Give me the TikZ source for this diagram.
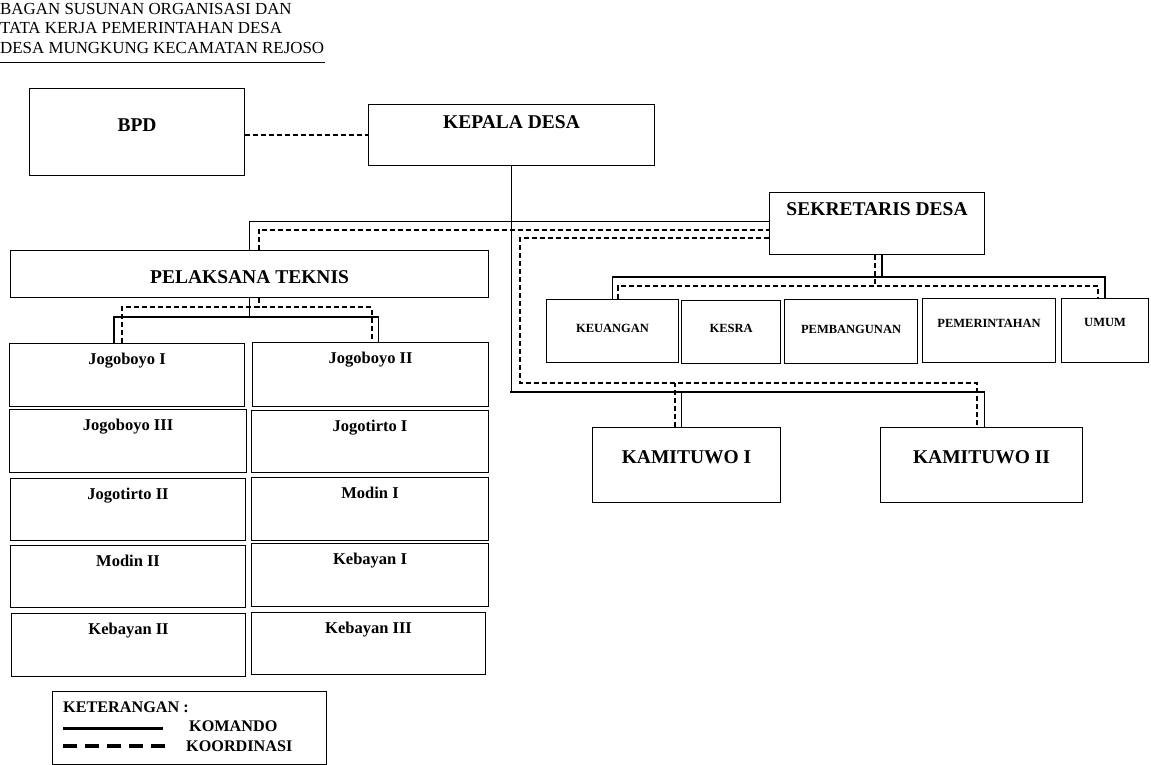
\documentclass[tikz,border=0pt]{standalone}
\usepackage{fontspec}
\setmainfont{Liberation Serif}
\usepackage{tikz}

\begin{document}
\begin{tikzpicture}[x=1pt,y=-1pt,
        box/.style n args={3}{draw,line width=1.1pt,inner sep=0pt,anchor=north west,
            minimum width=#1,text height=#2pt,text depth=#3pt},
        big/.style={font=\bfseries\fontsize{19.5}{20}\selectfont},
        mid/.style={font=\bfseries\fontsize{16.5}{17}\selectfont},
        sml/.style={font=\bfseries\fontsize{12.5}{13}\selectfont},
        ttl/.style={anchor=base west,inner sep=0pt,font=\fontsize{16.9}{17}\selectfont},
        lgd/.style={anchor=base west,inner sep=0pt,font=\bfseries\fontsize{16.2}{17}\selectfont},
        cmd/.style={line width=1.3pt},
        crd/.style={line width=1.9pt,dash pattern=on 5pt off 3pt}]
    \useasboundingbox (0,0) rectangle (1151,765);

    % judul
    \node[ttl] (t1) at (0,15) {BAGAN SUSUNAN ORGANISASI DAN};
    \node[ttl] (t2) at (0,34) {TATA KERJA PEMERINTAHAN DESA};
    \node[ttl] (t3) at (0,54) {DESA MUNGKUNG KECAMATAN REJOSO};
    \draw[line width=1pt] (0,63) -- (325,63);

    % pimpinan
    \node[box={215}{43}{44}, big] (bpd)    at (29,88)   {BPD};
    \node[box={286}{24}{37}, big] (kepala) at (368,104) {KEPALA DESA};
    \node[box={215}{23}{39}, big] (sek)    at (769,192) {SEKRETARIS DESA};
    \node[box={478}{33}{14}, big] (pel)    at (10,250)  {PELAKSANA TEKNIS};

    % kepala urusan
    \node[box={132}{33}{30}, sml] (keu)   at (546,299)  {KEUANGAN};
    \node[box={99}{32}{31},  sml] (kesra) at (681,300)  {KESRA};
    \node[box={133}{34}{30}, sml] (pemb)  at (784,299)  {PEMBANGUNAN};
    \node[box={133}{29}{35}, sml] (pemr)  at (922,298)  {PEMERINTAHAN};
    \node[box={87}{28}{36},  sml] (umum)  at (1061,298) {UMUM};

    % kamituwo
    \node[box={188}{36}{39}, big] (kam1) at (592,427) {KAMITUWO I};
    \node[box={202}{36}{39}, big] (kam2) at (880,427) {KAMITUWO II};

    % pelaksana teknis
    \node[box={235}{21}{42}, mid] (jb1) at (9,343)   {Jogoboyo I};
    \node[box={236}{21}{43}, mid] (jb2) at (252,342) {Jogoboyo II};
    \node[box={237}{21}{42}, mid] (jb3) at (9,409)   {Jogoboyo III};
    \node[box={237}{21}{41}, mid] (jt1) at (251,410) {Jogotirto I};
    \node[box={235}{21}{41}, mid] (jt2) at (10,478)  {Jogotirto II};
    \node[box={237}{21}{42}, mid] (md1) at (251,477) {Modin I};
    \node[box={235}{21}{41}, mid] (md2) at (10,545)  {Modin II};
    \node[box={237}{21}{42}, mid] (kb1) at (251,543) {Kebayan I};
    \node[box={234}{21}{42}, mid] (kb2) at (11,613)  {Kebayan II};
    \node[box={234}{21}{41}, mid] (kb3) at (251,612) {Kebayan III};

    % garis komando
    \coordinate (kbus) at (510,392);
    \draw[cmd] (kepala.south) |- (kbus) -| ([xshift=3pt]kam2.north);
    \draw[cmd] ([xshift=-5pt]kam1.north) -- ([xshift=-5pt]kam1.north |- kbus);
    \draw[cmd] (pel.north) |- ([yshift=2pt]sek.west);
    \draw[cmd] ([xshift=5pt]sek.south) -- ++(0,-22pt) coordinate (sbus);
    \draw[cmd] (keu.north) |- (sbus) -| (umum.north);
    \draw[cmd] (pel.south) -- ++(0,-19pt) coordinate (pbus);
    \draw[cmd] ([xshift=-13pt]jb1.north) |- (pbus) -| ([xshift=8pt]jb2.north);

    % garis koordinasi
    \coordinate (kdash) at (520,383);
    \draw[crd] (bpd.east |- kepala.west) -- (kepala.west);
    \draw[crd] ([xshift=9pt]pel.north) |- ([yshift=-6pt]sek.west);
    \draw[crd] ([yshift=-14pt]sek.west) -| (kdash) -| ([xshift=-5pt]kam2.north);
    \draw[crd] ([xshift=-12pt]kam1.north) -- ([xshift=-12pt]kam1.north |- kdash);
    \draw[crd] ([xshift=-2pt]sek.south) -- ++(0,-31pt) coordinate (sdash);
    \draw[crd] ([xshift=5pt]keu.north) |- (sdash) -| ([xshift=-7pt]umum.north);
    \draw[crd] ([xshift=9pt]pel.south) -- ++(0,-9pt) coordinate (pdash);
    \draw[crd] ([xshift=-5pt]jb1.north) |- (pdash) -| ([xshift=1pt]jb2.north);

    % keterangan
    \node[draw,line width=1.1pt,inner sep=0pt,anchor=north west,
        minimum width=274pt,minimum height=73pt] (ket) at (52,691) {};
    \node[lgd] (ketT) at (63,712)  {KETERANGAN :};
    \node[lgd] (komT) at (189,731) {KOMANDO};
    \node[lgd] (korT) at (186,751) {KOORDINASI};
    \draw[line width=3pt] (63,728) -- (163,728);
    \draw[line width=4.5pt,dash pattern=on 13.5pt off 8.5pt] (63,746) -- (165,746);
\end{tikzpicture}
\end{document}
